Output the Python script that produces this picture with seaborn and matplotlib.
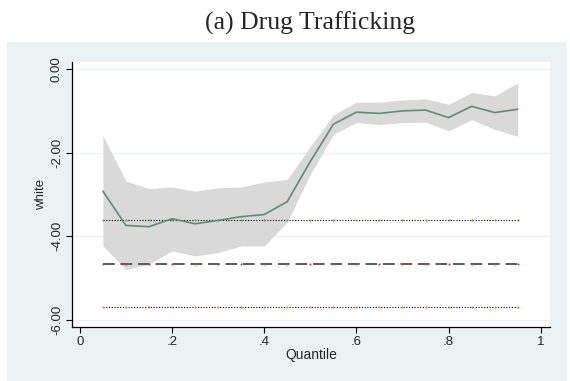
import numpy as np
import pandas as pd
import matplotlib
matplotlib.use("Agg")
import matplotlib.pyplot as plt
from matplotlib.patches import Rectangle
import seaborn as sns

# Quantile regression coefficients for "white" with 95% bands
quantiles = [0.05, 0.10, 0.15, 0.20, 0.25, 0.30, 0.35, 0.40, 0.45, 0.50,
             0.55, 0.60, 0.65, 0.70, 0.75, 0.80, 0.85, 0.90, 0.95]
coef = [-2.92, -3.74, -3.77, -3.58, -3.70, -3.62, -3.53, -3.48, -3.17, -2.21,
        -1.32, -1.03, -1.06, -1.00, -0.98, -1.16, -0.89, -1.04, -0.96]
upper = [-1.59, -2.68, -2.86, -2.82, -2.92, -2.84, -2.82, -2.70, -2.64, -1.85,
         -1.10, -0.79, -0.79, -0.74, -0.71, -0.84, -0.56, -0.64, -0.33]
lower = [-4.23, -4.80, -4.67, -4.35, -4.47, -4.39, -4.23, -4.23, -3.66, -2.52,
         -1.56, -1.28, -1.33, -1.28, -1.27, -1.48, -1.21, -1.44, -1.61]

# OLS estimate and its confidence limits
ols_coef = -4.67
ols_upper = -3.62
ols_lower = -5.69

x_ticks = [0, 0.2, 0.4, 0.6, 0.8, 1.0]
x_tick_labels = ["0", ".2", ".4", ".6", ".8", "1"]
y_ticks = [0, -2, -4, -6]
y_tick_labels = ["0.00", "-2.00", "-4.00", "-6.00"]

df = pd.DataFrame({"q": quantiles, "coef": coef, "lo": lower, "hi": upper})
df["ols"] = ols_coef
df["ols_hi"] = ols_upper
df["ols_lo"] = ols_lower

sns.set_style("white")
plt.rcParams["font.family"] = ["Liberation Sans", "DejaVu Sans"]

W, H = 570, 381
fig = plt.figure(figsize=(W / 100, H / 100), dpi=100)
fig.patch.set_facecolor("white")

# graph region background
fig.patches.append(Rectangle((7 / W, 0), (567 - 7) / W, (H - 42) / H,
                             transform=fig.transFigure, facecolor="#eaf2f3",
                             edgecolor="none", zorder=-10))

ax = fig.add_axes([72 / W, (H - 327) / H, (550 - 72) / W, (327 - 62) / H])
ax.set_zorder(1)
ax.set_facecolor("white")

ax.fill_between(df["q"], df["lo"], df["hi"], color="#d9d9d9", linewidth=0, zorder=1)
sns.lineplot(data=df, x="q", y="coef", ax=ax, color="#5e8c78", linewidth=1.2, zorder=3)

sns.lineplot(data=df, x="q", y="ols_hi", ax=ax, color="black", linewidth=0.8,
             linestyle=(0, (1, 1.5)), marker="o", markersize=1.6,
             markerfacecolor="#7da05a", markeredgewidth=0, zorder=2)
sns.lineplot(data=df, x="q", y="ols", ax=ax, color="#5a5a5a", linewidth=1.4,
             linestyle=(0, (6, 3)), marker="o", markersize=1.6,
             markerfacecolor="#c0504d", markeredgewidth=0, zorder=2)
sns.lineplot(data=df, x="q", y="ols_lo", ax=ax, color="black", linewidth=0.8,
             linestyle=(0, (1, 1.5)), marker="o", markersize=1.6,
             markerfacecolor="#e69138", markeredgewidth=0, zorder=2)

ax.set_xlim(-0.017, 1.02)
ax.set_ylim(-6.17, 0.17)

for yv in y_ticks:
    ax.axhline(yv, color="#eaf2f3", linewidth=1.0, zorder=0.5)

ax.set_xticks(x_ticks)
ax.set_xticklabels(x_tick_labels, fontsize=9.5)
ax.set_yticks(y_ticks)
ax.set_yticklabels(y_tick_labels, fontsize=9.5, rotation=90, va="center")
ax.tick_params(axis="both", which="major", direction="out", length=4.5,
               width=0.8, color="black", bottom=True, left=True, pad=2)

ax.set_xlabel("Quantile", fontsize=10, labelpad=0)
ax.set_ylabel("white", fontsize=9.5, labelpad=3)

for side in ["top", "right"]:
    ax.spines[side].set_visible(False)
ax.spines["left"].set_color("black")
ax.spines["bottom"].set_color("black")
ax.spines["left"].set_linewidth(0.9)
ax.spines["bottom"].set_linewidth(0.9)

fig.text(310 / W, 1 - 30 / H, "(a) Drug Trafficking", ha="center", va="baseline",
         fontsize=18.5, family=["Liberation Serif", "DejaVu Serif"])

fig.savefig("out.png", dpi=100)
